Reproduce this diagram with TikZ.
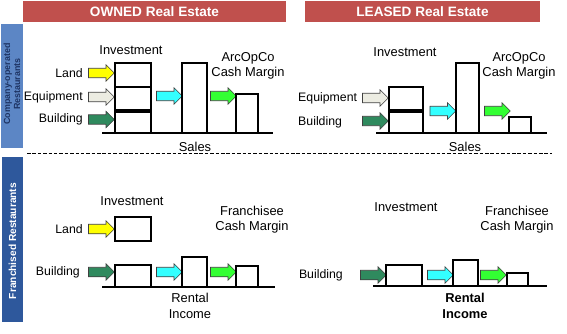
\documentclass[tikz,border=0pt]{standalone}
\usepackage{fontspec}
\setmainfont{Liberation Sans}
\usetikzlibrary{shapes.arrows,fit,positioning}
\definecolor{estatered}{RGB}{192,80,77}
\definecolor{companyblue}{RGB}{92,134,197}
\definecolor{companytext}{RGB}{30,52,100}
\definecolor{franchblue}{RGB}{46,88,156}
\definecolor{landyellow}{RGB}{255,255,0}
\definecolor{equipgrey}{RGB}{236,236,226}
\definecolor{buildgreen}{RGB}{47,138,94}
\definecolor{flowcyan}{RGB}{51,255,255}
\definecolor{margingreen}{RGB}{51,255,51}

\begin{document}
\begin{tikzpicture}[x=0.03cm,y=-0.03cm,line join=miter,
  lbl/.style={font=\fontsize{11}{12.75}\selectfont,inner sep=0pt,align=center},
  sidelbl/.style={font=\fontsize{10.5}{12}\selectfont,inner sep=0pt},
  head/.style={fill=estatered,inner sep=0pt},
  headtxt/.style={text=white,font=\bfseries\fontsize{11.6}{12}\selectfont},
  box/.style={draw=black,line width=1pt,fill=white,inner sep=0pt},
  barrow/.style={single arrow,draw=black!75,line width=0.5pt,fill=#1,
    single arrow head extend=3pt,inner sep=3.8pt,minimum height=22pt}]
 \useasboundingbox (0,0) rectangle (567,333);
 % column headers and row tags
 \node[head,fit={(23,1) (286,22)}] (ownHead) {};
 \node[headtxt] at (ownHead) {OWNED Real Estate};
 \node[head,fit={(305,1) (540,22)}] (leaseHead) {};
 \node[headtxt] at (leaseHead) {LEASED Real Estate};
 \fill[companyblue] (1,24) rectangle (23,148);
 \node[rotate=90,text=companytext,align=center,inner sep=0pt,
  font=\bfseries\fontsize{7.6}{8.6}\selectfont] (compTag) at (12,84) {Company-operated\\Restaurants};
 \fill[franchblue] (2,157) rectangle (23,322);
 \node[rotate=90,text=white,inner sep=0pt,
  font=\bfseries\fontsize{8.7}{10}\selectfont] (franTag) at (12.5,241) {Franchised Restaurants};
 \draw[dashed,dash pattern=on 3pt off 1.6pt,line width=0.6pt] (27,153) -- (552,153);

 % owned, company-operated
 \node[lbl] (oInv) at (131,50) {Investment};
 \node[sidelbl,anchor=east] (oLandL) at (83,73) {Land};
 \node[sidelbl,anchor=east] (oEquipL) at (83,97) {Equipment};
 \node[sidelbl,anchor=east] (oBuildL) at (83,119) {Building};
 \node[barrow=landyellow] (oLandA) at (99,73) {};
 \node[barrow=equipgrey] (oEquipA) at (99,97) {};
 \node[barrow=buildgreen] (oBuildA) at (99,119.5) {};
 \node[box,fit={(115,63) (151,87)}] (oLandB) {};
 \node[box,fit={(115,87) (151,110)}] (oEquipB) {};
 \node[box,fit={(115,112) (151,133)}] (oBuildB) {};
 \node[barrow=flowcyan] (oSalesA) at (167,96) {};
 \node[box,fit={(182,63) (207,133)}] (oSalesB) {};
 \node[barrow=margingreen] (oMarginA) at (221,96) {};
 \node[box,fit={(236,94) (258,133)}] (oMarginB) {};
 \coordinate (oBase1) at (102,133);
 \coordinate (oBase2) at (273,133);
 \draw[line width=1pt] (oBase1) -- (oBase2);
 \node[lbl] (oSales) at (195,147) {Sales};
 \node[lbl] (oMargin) at (248,66) {ArcOpCo\\Cash Margin};

 % leased, company-operated
 \node[lbl] (lInv) at (405,52) {Investment};
 \node[sidelbl,anchor=west] (lEquipL) at (298,98) {Equipment};
 \node[sidelbl,anchor=west] (lBuildL) at (298,122) {Building};
 \node[barrow=equipgrey] (lEquipA) at (373,98) {};
 \node[barrow=buildgreen] (lBuildA) at (373,121) {};
 \node[box,fit={(389,87) (423,110)}] (lEquipB) {};
 \node[box,fit={(389,112) (423,133)}] (lBuildB) {};
 \node[barrow=flowcyan] (lSalesA) at (440.5,111) {};
 \node[box,fit={(456,63) (479,133)}] (lSalesB) {};
 \node[barrow=margingreen] (lMarginA) at (495,111) {};
 \node[box,fit={(509,117) (531,133)}] (lMarginB) {};
 \coordinate (lBase1) at (376,133);
 \coordinate (lBase2) at (547,133);
 \draw[line width=1pt] (lBase1) -- (lBase2);
 \node[lbl] (lSales) at (465,147) {Sales};
 \node[lbl] (lMargin) at (519,66) {ArcOpCo\\Cash Margin};

 % owned, franchised
 \node[lbl] (ofInv) at (132,201) {Investment};
 \node[sidelbl,anchor=east] (ofLandL) at (83,229) {Land};
 \node[barrow=landyellow] (ofLandA) at (99,229) {};
 \node[box,fit={(115,217) (151,241)}] (ofLandB) {};
 \node[lbl] (ofMargin) at (252,220) {Franchisee\\Cash Margin};
 \node[sidelbl,anchor=east] (ofBuildL) at (80,272) {Building};
 \node[barrow=buildgreen] (ofBuildA) at (99,272) {};
 \node[box,fit={(115,265) (151,287)}] (ofBuildB) {};
 \node[barrow=flowcyan] (ofRentA) at (167,272) {};
 \node[box,fit={(182,257) (207,287)}] (ofRentB) {};
 \node[barrow=margingreen] (ofMarginA) at (221,272) {};
 \node[box,fit={(236,266) (258,287)}] (ofMarginB) {};
 \coordinate (ofBase1) at (102,287);
 \coordinate (ofBase2) at (275,287);
 \draw[line width=1pt] (ofBase1) -- (ofBase2);
 \node[lbl,font=\fontsize{11}{13.6}\selectfont] (ofRent) at (190,306) {Rental\\Income};

 % leased, franchised
 \node[lbl] (lfInv) at (406,207) {Investment};
 \node[lbl] (lfMargin) at (517,220) {Franchisee\\Cash Margin};
 \node[sidelbl,anchor=east] (lfBuildL) at (343,275) {Building};
 \node[barrow=buildgreen] (lfBuildA) at (371,275) {};
 \node[box,fit={(386,265) (422,286)}] (lfBuildB) {};
 \node[barrow=flowcyan] (lfRentA) at (438,275) {};
 \node[box,fit={(453,260) (478,286)}] (lfRentB) {};
 \node[barrow=margingreen] (lfMarginA) at (491,275) {};
 \node[box,fit={(507,273) (528,286)}] (lfMarginB) {};
 \coordinate (lfBase1) at (373,286);
 \coordinate (lfBase2) at (547,286);
 \draw[line width=1pt] (lfBase1) -- (lfBase2);
 \node[lbl,font=\bfseries\fontsize{11}{13.6}\selectfont] (lfRent) at (465,306) {Rental\\Income};
\end{tikzpicture}
\end{document}
